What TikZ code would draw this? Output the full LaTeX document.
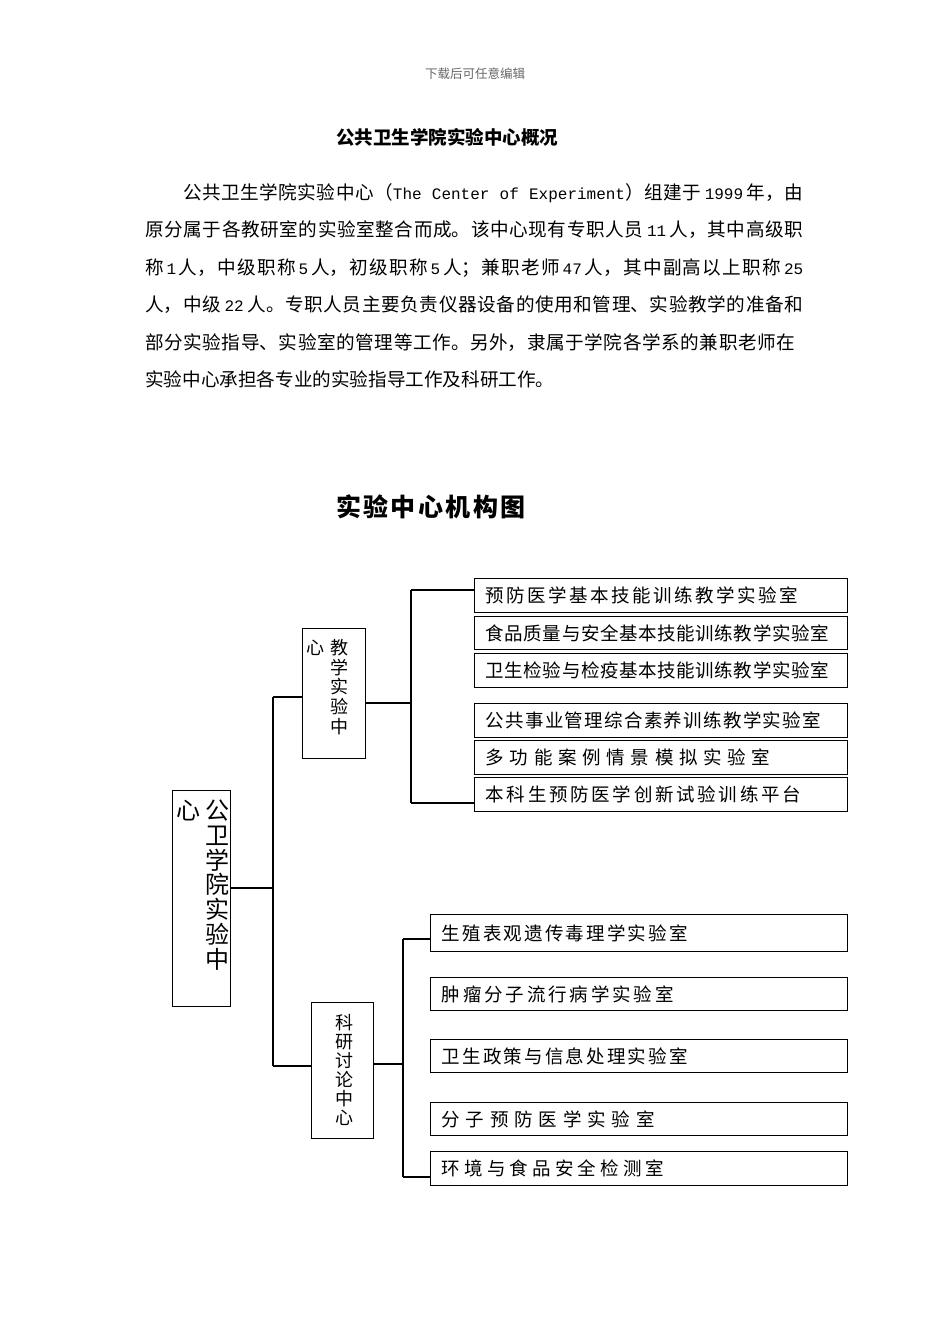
\documentclass[tikz,border=0pt]{standalone}
\usepackage{fontspec}
\setmainfont{Noto Sans CJK SC}
\newfontfamily\latmono[Scale=0.86]{Liberation Mono}
\XeTeXlinebreaklocale "zh"
\XeTeXlinebreakskip=0pt plus 4pt\relax
\newcommand\lm[1]{{\latmono #1}}
\newcommand\parafont{\fontsize{18.6}{37.5}\selectfont}
\def\spk{0pt}
\def\spacedtext#1#2{\def\spk{#1}\spacedloop#2\relax}
\def\spacedloop#1{\ifx#1\relax\else#1\kern\spk\relax\expandafter\spacedloop\fi}
\tikzset{
  box/.style={draw, line width=1.3pt, inner sep=0pt, anchor=north west},
  lab/.style={font=\fontsize{18.5}{20}\selectfont, inner ysep=0pt, inner xsep=11pt, align=left},
  col/.style={inner sep=0pt, align=center, anchor=north},
  conn/.style={line width=1.2pt},
  para/.style={anchor=north west, inner sep=0pt, font=\parafont, text width=658pt, align=justify}
}
\begin{document}
\begin{tikzpicture}[x=1pt,y=-1pt]
\useasboundingbox[fill=white] (0,0) rectangle (950,1344);
% header
\node[font=\fontsize{12.5}{13}\selectfont, text=black!60] (hdr) at (475,74) {下载后可任意编辑};
\node[font=\fontsize{18.5}{19}\selectfont\bfseries] (ttl) at (447,137) {公共卫生学院实验中心概况};
% paragraph
\node[para] (para) at (145,183) {\tolerance=9999\hspace*{38pt}公共卫生学院实验中心（\lm{The Center of Experiment}）组建于\hspace{0.2em}\lm{1999}\hspace{0.2em}年，由\linebreak
原分属于各教研室的实验室整合而成。该中心现有专职人员\hspace{0.2em}\lm{11}\hspace{0.2em}人，其中高级职\linebreak
称\hspace{0.15em}\lm{1}\hspace{0.15em}人，中级职称\hspace{0.15em}\lm{5}\hspace{0.15em}人，初级职称\hspace{0.15em}\lm{5}\hspace{0.15em}人；兼职老师\hspace{0.15em}\lm{47}\hspace{0.15em}人，其中副高以上职称\hspace{0.15em}\lm{25}\linebreak
人，中级\hspace{0.2em}\lm{22}\hspace{0.2em}人。专职人员主要负责仪器设备的使用和管理、实验教学的准备和\linebreak
部分实验指导、实验室的管理等工作。另外，隶属于学院各学系的兼职老师在\hspace*{8pt}\linebreak
实验中心承担各专业的实验指导工作及科研工作。};
% chart title
\node[font=\fontsize{25}{26}\selectfont\bfseries] (ctitle) at (432,507) {\spacedtext{2.4pt}{实验中心机构图}};
% root box
\node[box, minimum width=58pt, minimum height=216pt] (root) at (172,790) {};
\node[col, font=\fontsize{24}{24.7}\selectfont] (rootc1) at (217,800) {公\\卫\\学\\院\\实\\验\\中};
\node[col, font=\fontsize{24}{24.7}\selectfont] (rootc2) at (188,800) {心};
% teaching box
\node[box, minimum width=63pt, minimum height=130pt] (teach) at (302,628) {};
\node[col, font=\fontsize{18}{19.7}\selectfont] (teachc1) at (339,639) {教\\学\\实\\验\\中};
\node[col, font=\fontsize{18}{19.7}\selectfont] (teachc2) at (315,640) {心};
% research box
\node[box, minimum width=62pt, minimum height=136pt] (res) at (311,1002) {};
\node[col, font=\fontsize{18}{19}\selectfont] (resc) at (344,1014) {科\\研\\讨\\论\\中\\心};
% teaching labs
\node[box, lab, minimum width=373pt, minimum height=34pt, text width=351pt] (t1) at (474,578) {\spacedtext{2.5pt}{预防医学基本技能训练教学实验室}};
\node[box, lab, minimum width=373pt, minimum height=33pt, text width=351pt] (t2) at (474,616) {\spacedtext{0.6pt}{食品质量与安全基本技能训练教学实验室}};
\node[box, lab, minimum width=373pt, minimum height=34pt, text width=351pt] (t3) at (474,653) {\spacedtext{0.6pt}{卫生检验与检疫基本技能训练教学实验室}};
\node[box, lab, minimum width=373pt, minimum height=34pt, text width=351pt] (t4) at (474,703) {\spacedtext{1.3pt}{公共事业管理综合素养训练教学实验室}};
\node[box, lab, minimum width=373pt, minimum height=34pt, text width=351pt] (t5) at (474,740) {\spacedtext{5.7pt}{多功能案例情景模拟实验室}};
\node[box, lab, minimum width=373pt, minimum height=34pt, text width=351pt] (t6) at (474,777) {\spacedtext{2.7pt}{本科生预防医学创新试验训练平台}};
% research labs
\node[box, lab, minimum width=417pt, minimum height=37pt, text width=395pt] (r1) at (430,914) {\spacedtext{2.2pt}{生殖表观遗传毒理学实验室}};
\node[box, lab, minimum width=417pt, minimum height=33pt, text width=395pt] (r2) at (430,977) {\spacedtext{2.85pt}{肿瘤分子流行病学实验室}};
\node[box, lab, minimum width=417pt, minimum height=33pt, text width=395pt] (r3) at (430,1039) {\spacedtext{2.2pt}{卫生政策与信息处理实验室}};
\node[box, lab, minimum width=417pt, minimum height=33pt, text width=395pt] (r4) at (430,1102) {\spacedtext{5.8pt}{分子预防医学实验室}};
\node[box, lab, minimum width=417pt, minimum height=34pt, text width=395pt] (r5) at (430,1151) {\spacedtext{4.2pt}{环境与食品安全检测室}};
% connectors: root
\coordinate (rj) at (273,888);
\coordinate (rtop) at (273,697);
\coordinate (rbot) at (273,1066);
\draw[conn] (root.east |- rj) -- (rj);
\draw[conn] (rtop) -- (rbot);
\draw[conn] (rtop) -- (teach.west |- rtop);
\draw[conn] (rbot) -- (res.west |- rbot);
% connectors: teaching
\coordinate (tj) at (411,703);
\coordinate (tt) at (411,590);
\coordinate (tb) at (411,803);
\draw[conn] (teach.east |- tj) -- (tj);
\draw[conn] (tt) -- (tb);
\draw[conn] (tt) -- (t1.west |- tt);
\draw[conn] (tb) -- (t6.west |- tb);
% connectors: research
\coordinate (sj) at (403,1064);
\coordinate (st) at (403,939);
\coordinate (sb) at (403,1177);
\draw[conn] (res.east |- sj) -- (sj);
\draw[conn] (st) -- (sb);
\draw[conn] (st) -- (r1.west |- st);
\draw[conn] (sb) -- (r5.west |- sb);
\end{tikzpicture}
\end{document}
